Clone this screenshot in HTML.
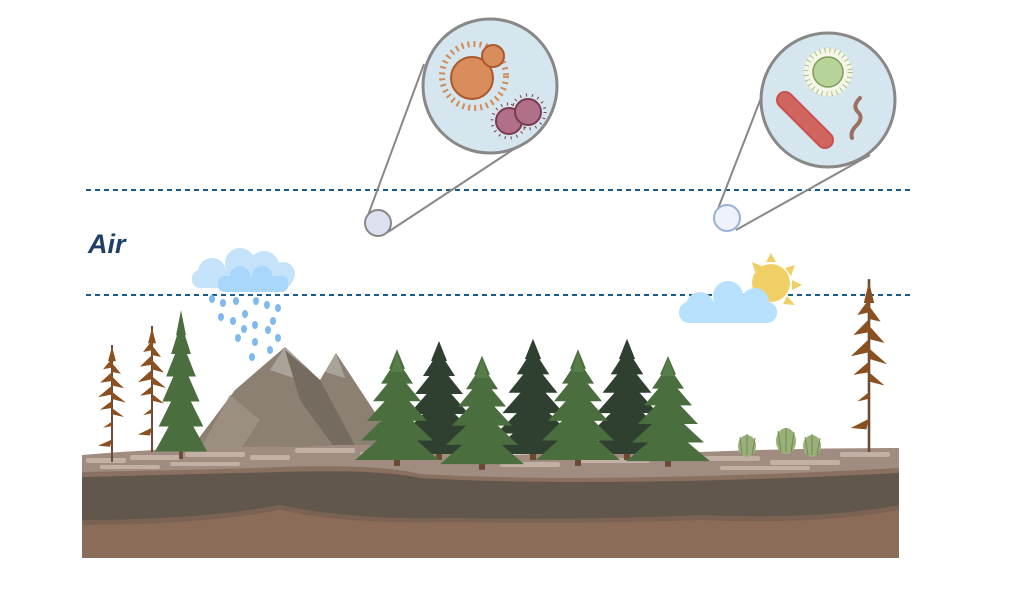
<!DOCTYPE html>
<html><head><meta charset="utf-8"><style>
html,body{margin:0;padding:0;background:#fff;}
svg{display:block;}
</style></head><body>
<svg width="1023" height="598" viewBox="0 0 1023 598" xmlns="http://www.w3.org/2000/svg">
<defs>
<g id="tree">
<rect x="-3" y="-8" width="6" height="12" fill="#6b4a35"/>
<polygon points="0,-115 -8,-95 8,-95" />
<polygon points="0,-105 -16,-80 16,-80" />
<polygon points="0,-92 -24,-62 24,-62" />
<polygon points="0,-76 -30,-42 30,-42" />
<polygon points="0,-58 -36,-22 36,-22" />
<polygon points="0,-40 -42,-2 42,-2" />
</g>
<g id="larch">
<line x1="0" y1="0" x2="0" y2="-130" stroke="#6b4a3a" stroke-width="2"/>
<g fill="#8a5020">
<polygon points="0,-128 -4,-112 4,-112"/>
<polygon points="0,-115 -9,-103 0,-105"/><polygon points="0,-110 9,-98 0,-100"/>
<polygon points="0,-100 -12,-88 0,-90"/><polygon points="0,-95 12,-82 0,-85"/>
<polygon points="0,-85 -14,-72 0,-75"/><polygon points="0,-78 14,-66 0,-70"/>
<polygon points="0,-68 -12,-58 0,-60"/><polygon points="0,-60 12,-50 0,-53"/>
<polygon points="0,-45 -9,-38 0,-40"/>
<polygon points="0,-25 -14,-18 -2,-17"/>
</g>
</g>
</defs>

<line x1="86" y1="190" x2="914" y2="190" stroke="#1d5a8c" stroke-width="2" stroke-dasharray="5,4"/>
<line x1="86" y1="295" x2="914" y2="295" stroke="#1d5a8c" stroke-width="2" stroke-dasharray="5,4"/>
<text x="88" y="253" font-family="Liberation Sans, sans-serif" font-size="27" font-weight="bold" font-style="italic" fill="#1f3f66">Air</text>

<line x1="367" y1="218" x2="424" y2="64" stroke="#888" stroke-width="2"/>
<line x1="388" y1="232" x2="520" y2="145" stroke="#888" stroke-width="2"/>
<circle cx="490" cy="86" r="67" fill="#d5e6ee" stroke="#888" stroke-width="3"/>
<circle cx="378" cy="223" r="13" fill="#dde0ee" stroke="#888" stroke-width="2"/>
<circle cx="474" cy="76" r="32" fill="none" stroke="#d08a58" stroke-width="6" stroke-dasharray="2,4"/>
<circle cx="472" cy="78" r="21" fill="#d98c5c" stroke="#a9592c" stroke-width="2"/>
<circle cx="493" cy="56" r="11" fill="#d98c5c" stroke="#a9592c" stroke-width="2"/>
<circle cx="509" cy="121" r="17" fill="none" stroke="#7a3a50" stroke-width="3" stroke-dasharray="1,5"/>
<circle cx="528" cy="112" r="17" fill="none" stroke="#7a3a50" stroke-width="3" stroke-dasharray="1,5"/>
<circle cx="509" cy="121" r="13" fill="#b0708a" stroke="#7a3a50" stroke-width="2"/>
<circle cx="528" cy="112" r="13" fill="#b0708a" stroke="#7a3a50" stroke-width="2"/>

<line x1="716" y1="214" x2="768" y2="80" stroke="#888" stroke-width="2"/>
<line x1="736" y1="230" x2="870" y2="155" stroke="#888" stroke-width="2"/>
<circle cx="828" cy="100" r="67" fill="#d5e6ee" stroke="#888" stroke-width="3"/>
<circle cx="727" cy="218" r="13" fill="#eef2fa" stroke="#9ab0d6" stroke-width="2"/>
<circle cx="828" cy="72" r="24" fill="#f4f6e8"/>
<circle cx="828" cy="72" r="22" fill="none" stroke="#a8c080" stroke-width="5" stroke-dasharray="1,4"/>
<circle cx="828" cy="72" r="15" fill="#b8d39a" stroke="#7e9c5a" stroke-width="1.5"/>
<line x1="785" y1="100" x2="825" y2="140" stroke="#c85050" stroke-width="18" stroke-linecap="round"/>
<line x1="785" y1="100" x2="825" y2="140" stroke="#d06560" stroke-width="14" stroke-linecap="round"/>
<path d="M860 98 q-8 8 -2 14 q6 6 -2 14 q-6 6 -4 12" fill="none" stroke="#9a7060" stroke-width="4" stroke-linecap="round"/>

<g fill="#c4e3fb">
<circle cx="212" cy="272" r="14"/><circle cx="240" cy="263" r="15"/><circle cx="264" cy="266" r="15"/><circle cx="283" cy="274" r="12"/>
<rect x="192" y="270" width="100" height="18" rx="8"/>
</g>
<g fill="#a9d6fb"><rect x="218" y="276" width="70" height="16" rx="6"/><circle cx="240" cy="276" r="10"/><circle cx="262" cy="276" r="10"/></g>
<g fill="#7fb9ef">
<ellipse cx="212" cy="299" rx="3" ry="4"/><ellipse cx="223" cy="303" rx="3" ry="4"/><ellipse cx="236" cy="301" rx="3" ry="4"/><ellipse cx="256" cy="301" rx="3" ry="4"/><ellipse cx="267" cy="305" rx="3" ry="4"/><ellipse cx="278" cy="308" rx="3" ry="4"/>
<ellipse cx="221" cy="317" rx="3" ry="4"/><ellipse cx="233" cy="321" rx="3" ry="4"/><ellipse cx="245" cy="314" rx="3" ry="4"/><ellipse cx="255" cy="325" rx="3" ry="4"/><ellipse cx="268" cy="330" rx="3" ry="4"/><ellipse cx="273" cy="321" rx="3" ry="4"/>
<ellipse cx="244" cy="329" rx="3" ry="4"/><ellipse cx="238" cy="338" rx="3" ry="4"/><ellipse cx="255" cy="342" rx="3" ry="4"/><ellipse cx="270" cy="350" rx="3" ry="4"/><ellipse cx="252" cy="357" rx="3" ry="4"/><ellipse cx="278" cy="338" rx="3" ry="4"/>
</g>

<g fill="#f0d066">
<polygon points="771,253 766,262 776,262"/><polygon points="795,265 785,268 791,276"/><polygon points="802,285 792,280 792,290"/><polygon points="752,262 755,272 762,266"/><polygon points="795,305 787,296 783,304"/>
</g>
<circle cx="771" cy="283" r="19" fill="#f0d066"/>
<g fill="#b6e0fb">
<circle cx="700" cy="306" r="14"/><circle cx="728" cy="296" r="15"/><circle cx="755" cy="302" r="14"/>
<rect x="679" y="302" width="98" height="21" rx="10"/>
</g>

<polygon points="190,450 235,390 285,347 320,380 336,353 380,420 390,460" fill="#8b8071"/>
<polygon points="285,347 270,370 300,380 310,372" fill="#aaa39a"/>
<polygon points="336,353 325,372 345,378" fill="#aaa39a"/>
<polygon points="200,450 230,395 260,420 240,450" fill="#9a8f80"/>
<polygon points="285,350 300,400 340,455 360,455 320,380" fill="#756b5e"/>

<path d="M82 455 Q200 445 300 447 Q400 440 500 455 Q600 452 700 452 Q800 448 899 448 L899 558 L82 558 Z" fill="#a08c80"/>
<g fill="#c2b0a4">
<rect x="86" y="458" width="40" height="5" rx="2"/><rect x="130" y="455" width="50" height="5" rx="2"/><rect x="185" y="452" width="60" height="5" rx="2"/><rect x="250" y="455" width="40" height="5" rx="2"/>
<rect x="100" y="465" width="60" height="4" rx="2"/><rect x="170" y="462" width="70" height="4" rx="2"/><rect x="295" y="448" width="60" height="5" rx="2"/><rect x="360" y="452" width="40" height="5" rx="2"/>
<rect x="500" y="462" width="60" height="5" rx="2"/><rect x="580" y="458" width="70" height="5" rx="2"/><rect x="700" y="456" width="60" height="5" rx="2"/><rect x="770" y="460" width="70" height="5" rx="2"/><rect x="840" y="452" width="50" height="5" rx="2"/>
<rect x="720" y="466" width="90" height="4" rx="2"/>
</g>
<path d="M82 472 Q200 470 280 467 Q380 464 420 474 Q600 484 899 468 L899 558 L82 558 Z" fill="#8a7060"/>
<path d="M82 477 Q200 474 280 472 Q380 469 420 478 Q600 488 899 473 L899 558 L82 558 Z" fill="#62574c"/>
<path d="M82 520 Q200 520 280 505 Q350 520 450 518 Q600 520 700 515 Q820 520 899 505 L899 558 L82 558 Z" fill="#7a6352"/>
<path d="M82 525 Q200 525 280 510 Q350 525 450 522 Q600 524 700 520 Q820 525 899 510 L899 558 L82 558 Z" fill="#8b6c58"/>

<g fill="#2f4030">
<use href="#tree" transform="translate(439,456) scale(1.0)"/>
<use href="#tree" transform="translate(533,456) scale(1.02,1.02)"/>
<use href="#tree" transform="translate(627,456) scale(1.02,1.02)"/>
</g>
<g fill="#4b6e3e">
<use href="#tree" transform="translate(397,462) scale(1.0,0.98)"/>
<use href="#tree" transform="translate(482,466) scale(1.0,0.96)"/>
<use href="#tree" transform="translate(578,462) scale(1.0,0.98)"/>
<use href="#tree" transform="translate(668,463) scale(1.0,0.93)"/>
<use href="#tree" transform="translate(181,454) scale(0.62,1.25)"/>
</g>
<g fill="#5d8450" opacity="0.7">
<polygon points="397,352 391,372 403,372"/><polygon points="482,358 476,378 488,378"/><polygon points="578,352 572,372 584,372"/><polygon points="668,357 662,376 674,376"/>
</g>

<use href="#larch" transform="translate(112,462) scale(1,0.9)"/>
<use href="#larch" transform="translate(152,452) scale(1,0.97)"/>
<use href="#larch" transform="translate(869,452) scale(1.3,1.33)"/>

<g fill="#9ab07a">
<ellipse cx="747" cy="446" rx="9" ry="11"/><ellipse cx="786" cy="441" rx="10" ry="13"/><ellipse cx="812" cy="446" rx="9" ry="11"/>
</g>
<g stroke="#6e8a50" stroke-width="1">
<line x1="742" y1="455" x2="740" y2="437"/><line x1="747" y1="455" x2="747" y2="434"/><line x1="752" y1="455" x2="755" y2="438"/>
<line x1="781" y1="452" x2="778" y2="431"/><line x1="786" y1="452" x2="786" y2="428"/><line x1="791" y1="452" x2="794" y2="432"/>
<line x1="808" y1="455" x2="805" y2="437"/><line x1="812" y1="455" x2="812" y2="434"/><line x1="817" y1="455" x2="820" y2="438"/>
</g>
</svg>
</body></html>
